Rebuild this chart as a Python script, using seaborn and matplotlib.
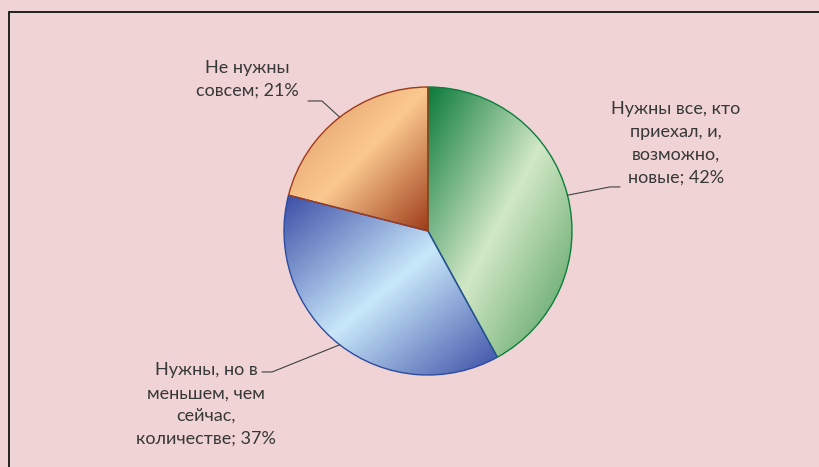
import numpy as np
import matplotlib
matplotlib.use("Agg")
import matplotlib.pyplot as plt
from matplotlib.lines import Line2D
import seaborn as sns

# ---- data ----
labels = ["Нужны все, кто\nприехал, и,\nвозможно,\nновые",
          "Нужны, но в\nменьшем, чем\nсейчас,\nколичестве",
          "Не нужны\nсовсем"]
shares = [42, 37, 21]

# gradient stops per slice (start, middle, end) and outline colour
grad_colors = [["#0b7a3a", "#d2e8c6", "#4f9c5c"],
               ["#3a4ea6", "#c8e8fa", "#3a4ea6"],
               ["#dc9462", "#fbc990", "#9e3c18"]]
edge_colors = ["#0b7f3d", "#2d4ca2", "#a03a1a"]

# label block centres and leader elbows (pie radius units)
label_pos = [(1.72, 0.61), (-1.54, -1.205), (-1.257, 1.052)]
elbows = [(1.264, 0.306, 1.333), (-1.083, -0.979, -1.153), (-0.736, 0.903, -0.833)]

bg = "#f0d3d4"
sns.set_theme(style="white", rc={"figure.facecolor": bg, "axes.facecolor": bg})
plt.rcParams["font.family"] = ["Lato", "DejaVu Sans"]

fig = plt.figure(figsize=(8.2, 4.67), dpi=100)
ax = fig.add_axes([(428 - 144) / 820, (467 - 231 - 144) / 467, 288 / 820, 288 / 467])
ax.set_facecolor("none")

wedges, _ = ax.pie(shares, startangle=90, counterclock=False, radius=1,
                   wedgeprops=dict(linewidth=1.0))

for w, cols, ec in zip(wedges, grad_colors, edge_colors):
    w.set_facecolor("none")
    w.set_edgecolor(ec)
    w.set_zorder(3)
    ext = w.get_path().get_extents()
    gx, gy = np.meshgrid(np.linspace(0, 1, 300), np.linspace(0, 1, 300))
    t = (gx + (1 - gy)) / 2
    cmap = sns.blend_palette(cols, n_colors=256, as_cmap=True)
    im = ax.imshow(t, cmap=cmap, origin="lower", vmin=0, vmax=1,
                   extent=[ext.x0, ext.x1, ext.y0, ext.y1], zorder=2,
                   interpolation="bilinear")
    im.set_clip_path(w)

# labels with leader lines from mid-angle of each slice
for w, lab, val, (tx, ty), (ex, ey, hx) in zip(wedges, labels, shares, label_pos, elbows):
    ang = np.deg2rad((w.theta1 + w.theta2) / 2)
    px, py = np.cos(ang), np.sin(ang)
    ax.plot([px, ex, hx], [py, ey, ey], color="#404040", lw=0.8, clip_on=False, zorder=4)
    ax.text(tx, ty, f"{lab}; {val}%", ha="center", va="center", multialignment="center",
            fontsize=13, color="#383838", linespacing=1.52)

ax.set_xlim(-1, 1)
ax.set_ylim(-1, 1)
ax.set_aspect("equal")
ax.axis("off")

# partial frame (left and top edges)
fig.add_artist(Line2D([9 / 820, 9 / 820], [0, 1 - 12 / 467], transform=fig.transFigure,
                      color="#222222", lw=1.4))
fig.add_artist(Line2D([9 / 820, 1], [1 - 12 / 467, 1 - 12 / 467], transform=fig.transFigure,
                      color="#222222", lw=1.4))

fig.savefig("out.png", dpi=100, facecolor=bg)
